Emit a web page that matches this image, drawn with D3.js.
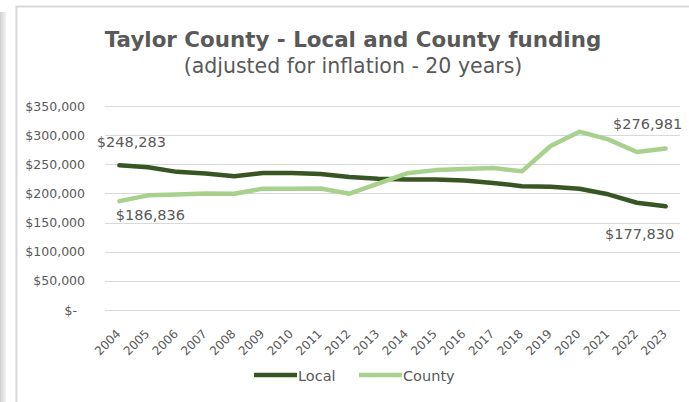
<!DOCTYPE html>
<html><head><meta charset="utf-8">
<script src="https://cdn.jsdelivr.net/npm/d3@7"></script>
<style>html,body{margin:0;padding:0;background:#fff;}svg{display:block;}</style>
</head><body>
<svg id="chart" width="689" height="402"></svg>
<script>
const years = ["2004","2005","2006","2007","2008","2009","2010","2011","2012","2013","2014","2015","2016","2017","2018","2019","2020","2021","2022","2023"];
const localValues = [248283,245000,237000,234000,229500,235000,235000,233300,228000,225000,224000,224000,222000,218000,212500,211600,208000,198500,184000,177830];
const countyValues = [186836,196700,198000,200000,199600,208200,208000,208500,199600,217000,234500,240000,241900,243600,237900,281400,306000,292800,271000,276981];
const yTicks = [0,50000,100000,150000,200000,250000,300000,350000];
const seriesNames = ["Local","County"];
const seriesColors = ["#375623","#a9d18e"];

const svg = d3.select("#chart");
const W = 689, H = 402;
const textColor = "#595959";
const font = "'DejaVu Sans', Verdana, sans-serif";

// frame + shadow
const defs = svg.append("defs");
const g1 = defs.append("linearGradient").attr("id","sh").attr("x1","0").attr("x2","1");
g1.append("stop").attr("offset","0").attr("stop-color","#cfcfcf");
g1.append("stop").attr("offset","1").attr("stop-color","#f4f4f4");
svg.append("rect").attr("x",0).attr("y",12).attr("width",6).attr("height",H-12).attr("fill","url(#sh)");
svg.append("rect").attr("x",16.5).attr("y",6.5).attr("width",W).attr("height",H)
  .attr("fill","#fff").attr("stroke","#d9d9d9").attr("stroke-width",2);

// title
svg.append("text").attr("x",353).attr("y",47).attr("text-anchor","middle")
  .attr("font-family",font).attr("font-weight","bold")
  .attr("font-size",21.4).attr("fill",textColor).text("Taylor County - Local and County funding");
svg.append("text").attr("x",353).attr("y",73).attr("text-anchor","middle")
  .attr("font-family",font)
  .attr("font-size",20.5).attr("fill",textColor).text("(adjusted for inflation - 20 years)");

const x = d3.scalePoint().domain(years).range([105,680]).padding(0.5);
const y = d3.scaleLinear().domain([0,350000]).range([310,106]);

// gridlines
svg.append("g").selectAll("line").data(yTicks).join("line")
  .attr("x1",105).attr("x2",680).attr("y1",d=>Math.round(y(d))+0.5).attr("y2",d=>Math.round(y(d))+0.5)
  .attr("stroke","#d9d9d9").attr("stroke-width",1.2);

// y axis
const fmt = d => d===0 ? "$-" : "$" + d3.format(",")(d);
const yAxis = svg.append("g").attr("transform","translate(105,0)")
  .call(d3.axisLeft(y).tickValues(yTicks).tickFormat(fmt).tickSize(0).tickPadding(20));
yAxis.select(".domain").remove();
yAxis.selectAll("text").attr("font-family",font).attr("font-size",12.5).attr("fill",textColor);
yAxis.selectAll("text").filter(d=>d===0).attr("dx",-8);

// x axis
const xAxis = svg.append("g").attr("transform","translate(0,310)")
  .call(d3.axisBottom(x).tickSize(0).tickPadding(0));
xAxis.select(".domain").remove();
xAxis.selectAll("text").attr("font-family",font).attr("font-size",12).attr("fill",textColor)
  .attr("text-anchor","end").attr("dy",0).attr("y",0)
  .attr("transform","translate(1.5,24.5) rotate(-45)");

// lines
const line = d3.line().x((d,i)=>x(years[i])).y(d=>y(d)).curve(d3.curveLinear);
[localValues,countyValues].forEach((vals,k)=>{
  svg.append("path").datum(vals).attr("d",line).attr("fill","none")
    .attr("stroke",seriesColors[k]).attr("stroke-width",4.5)
    .attr("stroke-linejoin","round").attr("stroke-linecap","round");
});

// data labels
const lbl = (yr,val,dx,dy) => svg.append("text").attr("x",x(yr)+dx).attr("y",y(val)+dy)
  .attr("text-anchor","middle").attr("font-family",font).attr("font-size",14.5).attr("fill",textColor)
  .text("$"+d3.format(",")(val));
lbl("2004",localValues[0],12,-18);
lbl("2004",countyValues[0],31,19);
lbl("2023",countyValues[19],-18,-20);
lbl("2023",localValues[19],-26,33);

// legend
const legX = [254,359];
seriesNames.forEach((n,k)=>{
  svg.append("line").attr("x1",legX[k]).attr("x2",legX[k]+43).attr("y1",375).attr("y2",375)
    .attr("stroke",seriesColors[k]).attr("stroke-width",4.5);
  svg.append("text").attr("x",legX[k]+44).attr("y",380.5).attr("font-family",font)
    .attr("font-size",14.5).attr("fill",textColor).text(n);
});
</script>
</body></html>
